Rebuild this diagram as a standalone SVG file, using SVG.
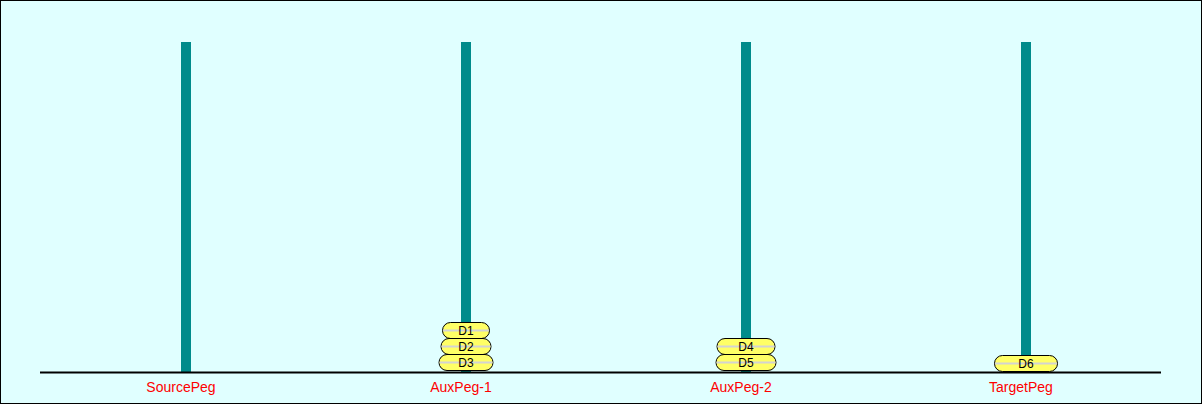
<svg xmlns="http://www.w3.org/2000/svg" width="1202" height="404" viewBox="0 0 1202 404">
<style>
.bg{fill:#e0ffff;stroke:#000;stroke-width:1}
.peg{fill:#008b8b}
.disk rect{fill:#ffff66;stroke:#000;stroke-width:1}
.disk line{stroke:#d3d3d3;stroke-width:2}
.disk text{font-family:"Liberation Sans",Arial,sans-serif;font-size:12px;fill:#000;text-anchor:middle}
.lbl{font-family:"Liberation Sans",Arial,sans-serif;font-size:14px;fill:#ff0000;text-anchor:middle}
</style>
<rect class="bg" x="0.5" y="0.5" width="1201" height="403"/>
<g id="pegs">
<g id="SourcePeg"><rect class="peg" x="181" y="42" width="10" height="330"/><text class="lbl" x="181" y="392">SourcePeg</text></g>
<g id="AuxPeg-1"><rect class="peg" x="461" y="42" width="10" height="330"/><text class="lbl" x="461" y="392">AuxPeg-1</text></g>
<g id="AuxPeg-2"><rect class="peg" x="741" y="42" width="10" height="330"/><text class="lbl" x="741" y="392">AuxPeg-2</text></g>
<g id="TargetPeg"><rect class="peg" x="1021" y="42" width="10" height="330"/><text class="lbl" x="1021" y="392">TargetPeg</text></g>
</g>
<g id="ground"><line x1="40" y1="372.5" x2="1161" y2="372.5" stroke="#000" stroke-width="2"/></g>
<g id="D1" class="disk"><rect x="442.5" y="322.5" width="47" height="16" rx="8"/><line x1="443" y1="330.5" x2="489" y2="330.5"/><text x="466" y="335">D1</text></g>
<g id="D2" class="disk"><rect x="441" y="338.5" width="50" height="16" rx="8"/><line x1="441.5" y1="346.5" x2="490.5" y2="346.5"/><text x="466" y="351">D2</text></g>
<g id="D3" class="disk"><rect x="439" y="354.5" width="54" height="16" rx="8"/><line x1="439.5" y1="362.5" x2="492.5" y2="362.5"/><text x="466" y="367">D3</text></g>
<g id="D4" class="disk"><rect x="717" y="338.5" width="58" height="16" rx="8"/><line x1="717.5" y1="346.5" x2="774.5" y2="346.5"/><text x="746" y="351">D4</text></g>
<g id="D5" class="disk"><rect x="716" y="354.5" width="60" height="16" rx="8"/><line x1="716.5" y1="362.5" x2="775.5" y2="362.5"/><text x="746" y="367">D5</text></g>
<g id="D6" class="disk"><rect x="994.5" y="355.5" width="63" height="16" rx="8"/><line x1="995" y1="363.5" x2="1057" y2="363.5"/><text x="1026" y="368">D6</text></g>
</svg>
